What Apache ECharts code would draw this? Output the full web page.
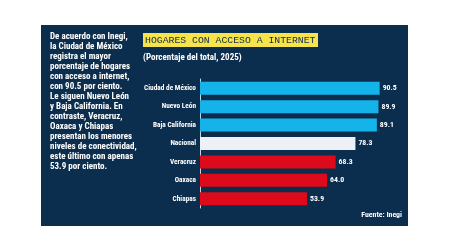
<!DOCTYPE html>
<html><head><meta charset="utf-8">
<script src="https://cdn.jsdelivr.net/npm/echarts@6/dist/echarts.min.js"></script>
<style>html,body{margin:0;padding:0;background:#fff}#c{width:449px;height:252px}</style>
</head><body><div id="c"></div>
<script>
const categories = ['Ciudad de México','Nuevo León','Baja California','Nacional','Veracruz','Oaxaca','Chiapas'];
const values = [90.5, 89.9, 89.1, 78.3, 68.3, 64.0, 53.9];
const groups = ['top','top','top','nat','low','low','low'];
const groupColors = {top:'#14b4ea', nat:'#eef0f8', low:'#dd0a1c'};
const introLines = ['De acuerdo con Inegi,','la Ciudad de México','registra el mayor','porcentaje de hogares','con acceso a internet,','con 90.5 por ciento.','Le siguen Nuevo León','y Baja California. En','contraste, Veracruz,','Oaxaca y Chiapas','presentan los menores','niveles de conectividad,','este último con apenas','53.9 por ciento.'];
const titleText = 'HOGARES CON ACCESO A INTERNET';
const subtitleText = '(Porcentaje del total, 2025)';
const sourceText = 'Fuente: Inegi';

const F = "'Liberation Sans Narrow','Roboto Condensed','Liberation Sans',sans-serif";
const chart = echarts.init(document.getElementById('c'), null, {renderer:'canvas'});
chart.setOption({
  backgroundColor:'#ffffff',
  animation:false,
  graphic:[
    {type:'rect', z:-10, shape:{x:41,y:25,width:367,height:201}, style:{fill:'#0c2e4e'}},
    {type:'text', left:50, top:32, style:{text:introLines.join('\n'), fill:'#ffffff', font:'bold 9px '+F, lineHeight:10}},
    {type:'rect', shape:{x:143,y:33,width:175,height:14}, style:{fill:'#f7e34b'}},
    {type:'text', left:145, top:35, style:{text:titleText, fill:'#0c2e4e', font:'9.8px "Liberation Mono","DejaVu Sans Mono",monospace'}},
    {type:'text', left:143, top:53, style:{text:subtitleText, fill:'#ffffff', font:'bold 9px '+F}},
    {type:'text', right:47, top:211, style:{text:sourceText, fill:'#ffffff', font:'bold 7.8px '+F}}
  ],
  grid:{left:200, top:79, width:198.5, height:129, containLabel:false},
  xAxis:{type:'value', min:0, max:100, show:false},
  yAxis:{type:'category', data:categories, inverse:true,
    axisLine:{show:true, lineStyle:{color:'#c9d3df', width:1}},
    axisTick:{show:false},
    axisLabel:{color:'#ffffff', fontFamily:F, fontWeight:'bold', fontSize:7.3, margin:4}},
  series:[{type:'bar', barWidth:13,
    data: values.map((v,i)=>({value:v, itemStyle:{color:groupColors[groups[i]]}})),
    label:{show:true, position:'right', distance:3, color:'#ffffff', fontFamily:F, fontWeight:'bold', fontSize:7.8,
      formatter:p=>p.value.toFixed(1)}}]
});
</script></body></html>
